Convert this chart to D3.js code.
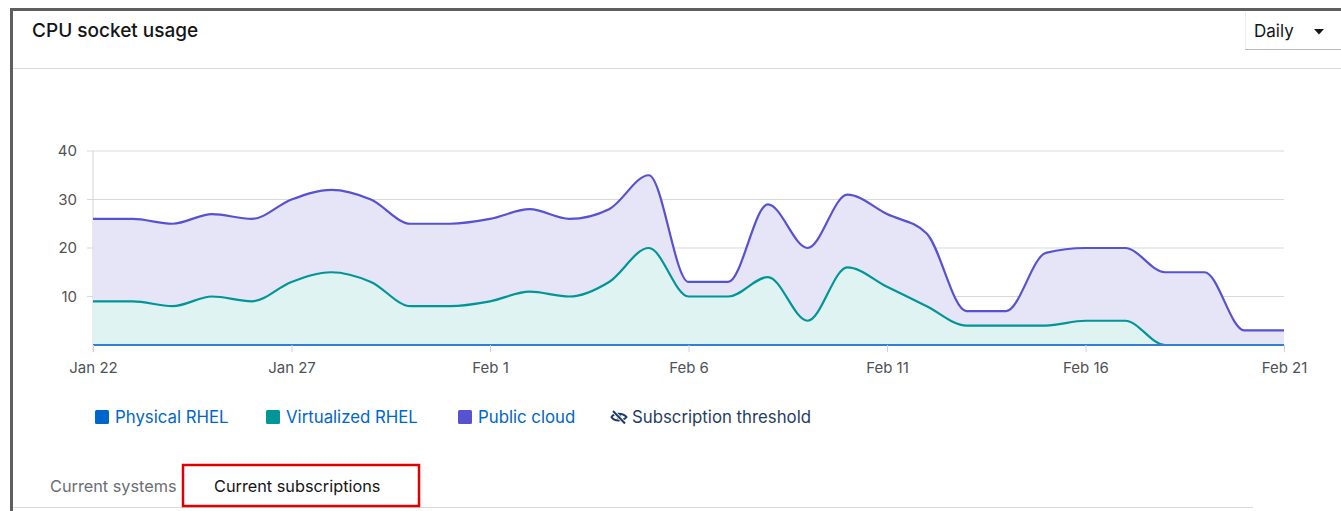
<!DOCTYPE html>
<html>
<head>
<meta charset="utf-8">
<script src="https://cdn.jsdelivr.net/npm/d3@7"></script>
<style>
  body { margin: 0; background: #fff; font-family: Inter, "Open Sans", sans-serif; }
  .tick text { font-family: Inter, sans-serif; }
</style>
</head>
<body>
<svg id="chart" width="1341" height="511"></svg>
<script>
// data (one value per day)
var startDay = new Date(2024, 0, 22);
var physical = [0,0,0,0,0,0,0,0,0,0,0,0,0,0,0,0,0,0,0,0,0,0,0,0,0,0,0,0,0,0,0];
var virtualized = [9,9,8,10,9,13,15,13,8,8,9,11,10,13,20,10,10,14,5,16,12,8,4,4,4,5,5,0,0,0,0];
var publicCloud = [26,26,25,27,26,30,32,30,25,25,26,28,26,28,35,13,13,29,20,31,27,23,7,7,19,20,20,15,15,3,3];
var yTicks = [10, 20, 30, 40];
var legendItems = ['Physical RHEL', 'Virtualized RHEL', 'Public cloud'];
var legendColors = ['#0066cc', '#009596', '#5752d1'];

var svg = d3.select('#chart');

var days = publicCloud.map((d, i) => d3.timeDay.offset(startDay, i));

///////////////////////////////////////////////////////////////
// card frame and header
///////////////////////////////////////////////////////////////
svg.append('rect').attr('x', 10).attr('y', 8).attr('width', 1340).attr('height', 3).attr('fill', '#5f5f5f');
svg.append('rect').attr('x', 10).attr('y', 8).attr('width', 3).attr('height', 510).attr('fill', '#5f5f5f');

svg.append('text')
  .attr('x', 32).attr('y', 37)
  .style('font-size', '19px').style('font-weight', 500)
  .attr('fill', '#151515')
  .text('CPU socket usage');

svg.append('line')
  .attr('x1', 13).attr('x2', 1341).attr('y1', 68.5).attr('y2', 68.5)
  .attr('stroke', '#dcdcdc');

// dropdown
svg.append('line').attr('x1', 1245.5).attr('x2', 1245.5).attr('y1', 12).attr('y2', 50).attr('stroke', '#ececec');
svg.append('line').attr('x1', 1245).attr('x2', 1341).attr('y1', 49.5).attr('y2', 49.5).attr('stroke', '#b8bbbe');
svg.append('text')
  .attr('x', 1254).attr('y', 37)
  .style('font-size', '17px')
  .attr('fill', '#151515')
  .text('Daily');
svg.append('path')
  .attr('d', 'M1314,29 L1324,29 L1319,34.5 Z')
  .attr('fill', '#151515');

///////////////////////////////////////////////////////////////
// chart
///////////////////////////////////////////////////////////////
var x = d3.scaleTime()
  .domain([days[0], days[days.length - 1]])
  .range([93, 1284]);

var y = d3.scaleLinear()
  .domain([0, 40])
  .range([345, 151]);

// grid lines
svg.append('g')
  .selectAll('line')
  .data(yTicks)
  .enter()
  .append('line')
  .attr('x1', 87).attr('x2', 1284)
  .attr('y1', d => y(d)).attr('y2', d => y(d))
  .attr('stroke', '#d9d9d9')
  .attr('stroke-width', 1);

// y axis
var yAxis = d3.axisLeft()
  .scale(y)
  .tickValues(yTicks)
  .tickSize(0)
  .tickPadding(16);

var gy = svg.append('g')
  .attr('class', 'axis')
  .attr('transform', 'translate(93,0)')
  .call(yAxis);
gy.select('.domain').attr('stroke', '#d2d2d2').attr('d', 'M0,' + y(40) + 'V352');
gy.selectAll('text').style('font-size', '15px').attr('fill', '#4f5255');

// areas
var area = d3.area()
  .curve(d3.curveMonotoneX)
  .x((d, i) => x(days[i]))
  .y0(y(0))
  .y1(d => y(d));

var line = d3.line()
  .curve(d3.curveMonotoneX)
  .x((d, i) => x(days[i]))
  .y(d => y(d));

svg.append('path')
  .datum(publicCloud)
  .attr('d', area)
  .attr('fill', '#e6e4f7');

svg.append('path')
  .datum(virtualized)
  .attr('d', area)
  .attr('fill', '#dff3f2');

svg.append('path')
  .datum(publicCloud)
  .attr('d', line)
  .attr('fill', 'none')
  .attr('stroke', '#5752d1')
  .attr('stroke-width', 2.2);

svg.append('path')
  .datum(virtualized)
  .attr('d', line)
  .attr('fill', 'none')
  .attr('stroke', '#009596')
  .attr('stroke-width', 2.2);

svg.append('path')
  .datum(physical)
  .attr('d', line)
  .attr('fill', 'none')
  .attr('stroke', '#2f80d3')
  .attr('stroke-width', 1.8);

// x axis
var xAxis = d3.axisBottom()
  .scale(x)
  .tickValues(days.filter((d, i) => i % 5 === 0))
  .tickFormat(d3.timeFormat('%b %-d'))
  .tickSize(7)
  .tickPadding(10);

var gx = svg.append('g')
  .attr('class', 'axis')
  .attr('transform', 'translate(0,' + y(0) + ')')
  .call(xAxis);
gx.select('.domain').remove();
gx.selectAll('line').attr('stroke', '#d2d2d2');
gx.selectAll('text').style('font-size', '15px').attr('fill', '#4f5255');

///////////////////////////////////////////////////////////////
// legend
///////////////////////////////////////////////////////////////
var legendX = [95, 266, 458];
var legend = svg.append('g')
  .selectAll('g')
  .data(legendItems)
  .enter()
  .append('g')
  .attr('transform', (d, i) => 'translate(' + legendX[i] + ',410)');

legend.append('rect')
  .attr('width', 14).attr('height', 14).attr('rx', 1.5)
  .attr('fill', (d, i) => legendColors[i]);

legend.append('text')
  .attr('x', 20).attr('y', 13)
  .style('font-size', '16.8px')
  .attr('fill', '#0066cc')
  .text(d => d);

// eye-slash icon + threshold label
var eye = svg.append('g').attr('transform', 'translate(611,410)').attr('fill', '#1f3d63');
eye.append('path')
  .attr('d', 'M0.5,7 C3,2.5 12,2.5 15.5,7 C12,11.5 3,11.5 0.5,7 Z')
  .attr('fill', 'none')
  .attr('stroke', '#1f3d63')
  .attr('stroke-width', 2);
eye.append('circle').attr('cx', 8).attr('cy', 7).attr('r', 2.3);
eye.append('line')
  .attr('x1', 2).attr('y1', 1).attr('x2', 14).attr('y2', 13.5)
  .attr('stroke', '#fff').attr('stroke-width', 3.6);
eye.append('line')
  .attr('x1', 2).attr('y1', 1).attr('x2', 14).attr('y2', 13.5)
  .attr('stroke', '#1f3d63').attr('stroke-width', 2);

svg.append('text')
  .attr('x', 632).attr('y', 423)
  .style('font-size', '16.8px')
  .attr('fill', '#1f3d63')
  .text('Subscription threshold');

///////////////////////////////////////////////////////////////
// tabs
///////////////////////////////////////////////////////////////
svg.append('line')
  .attr('x1', 13).attr('x2', 1253).attr('y1', 507.5).attr('y2', 507.5)
  .attr('stroke', '#d9d9d9');

svg.append('text')
  .attr('x', 50).attr('y', 492)
  .style('font-size', '16.3px')
  .attr('fill', '#6a6e73')
  .text('Current systems');

svg.append('text')
  .attr('x', 214).attr('y', 492)
  .style('font-size', '16.3px')
  .attr('fill', '#151515')
  .text('Current subscriptions');

svg.append('rect')
  .attr('x', 183).attr('y', 465)
  .attr('width', 236).attr('height', 41)
  .attr('fill', 'none')
  .attr('stroke', '#e00000')
  .attr('stroke-width', 2.5);
</script>
</body>
</html>
